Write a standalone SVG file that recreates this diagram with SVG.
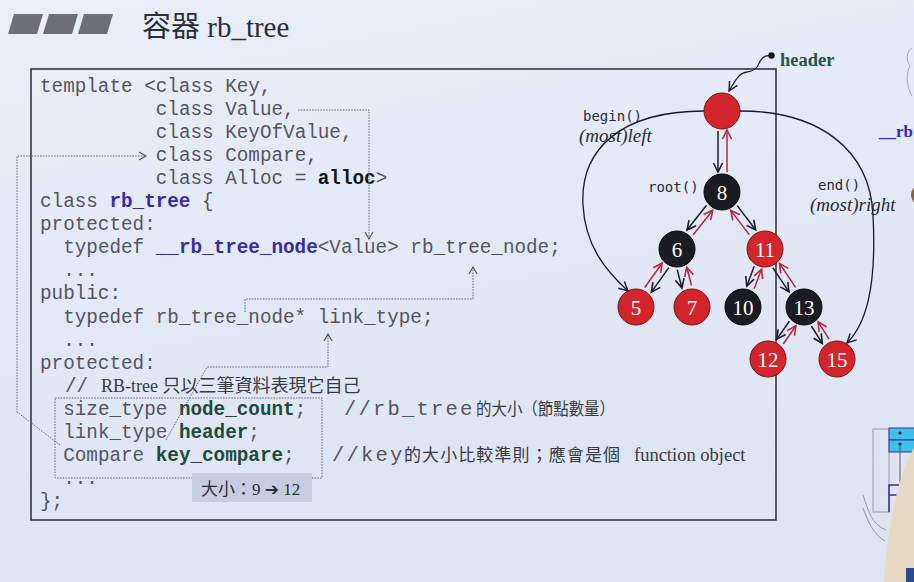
<svg xmlns="http://www.w3.org/2000/svg" width="914" height="582" viewBox="0 0 914 582">
<defs>
  <linearGradient id="bg" x1="0" y1="0" x2="0.3" y2="1">
    <stop offset="0" stop-color="#e9eef8"/>
    <stop offset="1" stop-color="#dde4f2"/>
  </linearGradient>
  <marker id="ag" markerUnits="userSpaceOnUse" markerWidth="10" markerHeight="10" refX="8" refY="5" orient="auto">
    <path d="M1,1 L8,5 L1,9" fill="none" stroke="#555" stroke-width="1.2"/>
  </marker>
  <marker id="ad" markerUnits="userSpaceOnUse" markerWidth="12" markerHeight="12" refX="10" refY="6" orient="auto">
    <path d="M1,1.5 L10,6 L1,10.5" fill="none" stroke="#1a1a28" stroke-width="1.6"/>
  </marker>
  <marker id="ar" markerUnits="userSpaceOnUse" markerWidth="12" markerHeight="12" refX="10" refY="6" orient="auto">
    <path d="M1,1.5 L10,6 L1,10.5" fill="none" stroke="#b3283f" stroke-width="1.6"/>
  </marker>
  <marker id="ak" markerUnits="userSpaceOnUse" markerWidth="12" markerHeight="12" refX="10" refY="6" orient="auto">
    <path d="M1,1.5 L10,6 L1,10.5" fill="none" stroke="#1a1a28" stroke-width="1.4"/>
  </marker>
</defs>
<style>
  .code { font-family: "Liberation Mono", "Courier New", monospace; font-size: 19.3px; fill: #55555f; }
  .bk { font-weight: bold; fill: #15151c; }
  .bl { font-weight: bold; fill: #3a2aa8; }
  .gr { font-weight: bold; fill: #1f4a3c; }
  .cjk { font-family: "Liberation Serif", "Noto Sans CJK TC", serif; fill: #3a3a44; }
  .conn { fill: none; stroke: #6a6a74; stroke-width: 1; stroke-dasharray: 1.6 1.2; }
  .dk { stroke: #1a1a28; stroke-width: 1.5; fill: none; marker-end: url(#ad); }
  .rd { stroke: #b3283f; stroke-width: 1.5; fill: none; marker-end: url(#ar); }
  .curve { stroke: #1a1a28; stroke-width: 1.3; fill: none; marker-end: url(#ak); }
  .red { fill: #d2262c; stroke: #7a1416; stroke-width: 1; }
  .blk { fill: #1b1b22; stroke: #0a0a0f; stroke-width: 1; }
  .num { font-family: "Liberation Serif", serif; font-size: 21px; fill: #ffffff; text-anchor: middle; }
  .lbl { font-family: "DejaVu Sans Mono", monospace; font-size: 14px; fill: #2a2a35; }
  .it { font-family: "Liberation Serif", serif; font-style: italic; font-size: 19px; fill: #2a2a35; }
</style>
<rect x="0" y="0" width="914" height="582" fill="url(#bg)"/>

<!-- title -->
<g id="title">
  <polygon points="14,14 43,14 37,34 8,34" fill="#6e6e7a"/>
  <polygon points="49,14 78,14 72,34 43,34" fill="#6e6e7a"/>
  <polygon points="84,14 113,14 107,34 78,34" fill="#6e6e7a"/>
  <text x="142" y="37" font-family="Liberation Serif, Noto Sans CJK TC, serif" font-size="29" fill="#2e2e36">容器 rb_tree</text>
</g>

<!-- main frame -->
<rect id="frame" x="31" y="69" width="745" height="451" fill="none" stroke="#2a2a35" stroke-width="1.5"/>

<!-- code -->
<g id="code" class="code">
  <text x="40" y="91.5">template &lt;class Key,</text>
  <text x="155.8" y="114.6">class Value,</text>
  <text x="155.8" y="137.7">class KeyOfValue,</text>
  <text x="155.8" y="160.8">class Compare,</text>
  <text x="155.8" y="183.9">class Alloc = <tspan class="bk">alloc</tspan>&gt;</text>
  <text x="40" y="207">class <tspan class="bl">rb_tree</tspan> {</text>
  <text x="40" y="230.1">protected:</text>
  <text x="63.2" y="253.2">typedef <tspan class="bl">__rb_tree_node</tspan>&lt;Value&gt; rb_tree_node;</text>
  <text x="63.2" y="276.3">...</text>
  <text x="40" y="299.4">public:</text>
  <text x="63.2" y="322.5">typedef rb_tree_node* link_type;</text>
  <text x="63.2" y="345.6">...</text>
  <text x="40" y="368.7">protected:</text>
  <text x="65" y="391.8">//</text>
  <text x="101" y="391.8" class="cjk" font-size="18">RB-tree 只以三筆資料表現它自己</text>
  <text x="63.2" y="414.9">size_type <tspan class="gr">node_count</tspan>;</text>
  <text x="63.2" y="438">link_type <tspan class="gr">header</tspan>;</text>
  <text x="63.2" y="461.1">Compare <tspan class="gr">key_compare</tspan>;</text>
  <text x="63.2" y="484.2">...</text>
  <text x="40" y="507.3">};</text>
  <text x="344" y="414.9" font-size="20.5" letter-spacing="2.2">//rb_tree</text>
  <text x="476" y="414.9" class="cjk" font-size="17" textLength="139" lengthAdjust="spacingAndGlyphs">的大小（節點數量）</text>
  <text x="332" y="461.1" font-size="20.5" letter-spacing="2.2">//key</text>
  <text x="404" y="461.1" class="cjk" font-size="17" textLength="216" lengthAdjust="spacing">的大小比較準則；應會是個</text>
  <text x="634" y="461.1" class="cjk" font-size="18.5">function object</text>
</g>

<!-- size box -->
<g id="sizebox">
  <rect x="55" y="398" width="267" height="80" fill="none" stroke="#6a6a74" stroke-width="1" stroke-dasharray="1.6 1.2"/>
  <rect x="192" y="473" width="120" height="29" fill="#c6cde0"/>
  <text x="201" y="495" font-family="Liberation Serif, Noto Sans CJK TC, serif" font-size="17" fill="#2e2e38">大小：9 <tspan font-family="DejaVu Sans, sans-serif" font-weight="bold">➔</tspan> 12</text>
</g>

<!-- connectors -->
<g id="connectors">
  <path class="conn" d="M298,110 L369,110 L369,239" marker-end="url(#ag)"/>
  <path class="conn" d="M60,445 L17,412 L17,156 L146,156" marker-end="url(#ag)"/>
  <path class="conn" d="M245,312 L245,299 L473,299 L473,267" marker-end="url(#ag)"/>
  <path class="conn" d="M166,440 L207,367 L328,367 L328,334" marker-end="url(#ag)"/>

  <!-- header pointer -->
  <path d="M771,56 C 762,54 760,62 757,67 C 752,74 745,70 740,75 C 735,80 733,84 729,91" fill="none" stroke="#1a1a28" stroke-width="1.2" marker-end="url(#ak)"/>
  <!-- begin / end curves -->
  <path class="curve" d="M704,111 C 620,111 580,150 583,205 C 585,245 605,270 628,291"/>
  <path class="curve" d="M740,111 C 820,111 870,150 873,215 C 877,290 865,325 847,343"/>

  <!-- tree edges -->
  <line class="dk" x1="718" y1="131" x2="718" y2="172"/>
  <line class="rd" x1="727" y1="172" x2="727" y2="130"/>
  <line class="dk" x1="706.5" y1="205.2" x2="687" y2="230"/>
  <line class="rd" x1="693.1" y1="235" x2="712.7" y2="210.2"/>
  <line class="dk" x1="737.2" y1="205.6" x2="755.6" y2="229.8"/>
  <line class="rd" x1="749.2" y1="234.6" x2="730.8" y2="210.4"/>
  <line class="dk" x1="668.8" y1="267.6" x2="651.4" y2="292.1"/>
  <line class="rd" x1="644.8" y1="287.5" x2="662.2" y2="263"/>
  <line class="dk" x1="677.2" y1="269.6" x2="681.9" y2="287.9"/>
  <line class="rd" x1="691.5" y1="285.5" x2="686.8" y2="267.2"/>
  <line class="dk" x1="754.2" y1="266.3" x2="746.8" y2="286"/>
  <line class="rd" x1="754.2" y1="288.8" x2="761.6" y2="269.1"/>
  <line class="dk" x1="772.9" y1="267.8" x2="789" y2="291.8"/>
  <line class="rd" x1="795.6" y1="287.4" x2="779.5" y2="263.4"/>
  <line class="dk" x1="789.3" y1="321.2" x2="776.7" y2="339.4"/>
  <line class="rd" x1="783.3" y1="344" x2="795.9" y2="325.8"/>
  <line class="dk" x1="811.3" y1="326" x2="822.3" y2="343.4"/>
  <line class="rd" x1="829.1" y1="339.2" x2="818.1" y2="321.8"/>
</g>

<!-- tree labels -->
<g id="labels">
  <circle cx="771.5" cy="55.5" r="3.2" fill="#111"/>
  <text x="780" y="66" font-family="Liberation Serif, serif" font-weight="bold" font-size="18.5" fill="#2a5548">header</text>
  <text x="583" y="121" class="lbl">begin()</text>
  <text x="579" y="142" class="it">(most)left</text>
  <text x="648" y="192" class="lbl">root()</text>
  <text x="818" y="190" class="lbl">end()</text>
  <text x="810" y="211" class="it">(most)right</text>
</g>

<!-- nodes -->
<g id="node-header"><circle cx="722" cy="111" r="18" class="red"/></g>
<g id="node-8"><circle cx="722" cy="192" r="18" class="blk"/><text x="722" y="199.5" class="num">8</text></g>
<g id="node-6"><circle cx="677" cy="249" r="18" class="blk"/><text x="677" y="256.5" class="num">6</text></g>
<g id="node-11"><circle cx="765" cy="249" r="18" class="red"/><text x="765" y="256.5" class="num">11</text></g>
<g id="node-5"><circle cx="636" cy="307" r="18" class="red"/><text x="636" y="314.5" class="num">5</text></g>
<g id="node-7"><circle cx="692" cy="307" r="18" class="red"/><text x="692" y="314.5" class="num">7</text></g>
<g id="node-10"><circle cx="743" cy="307" r="18" class="blk"/><text x="743" y="314.5" class="num">10</text></g>
<g id="node-13"><circle cx="804" cy="307" r="18" class="blk"/><text x="804" y="314.5" class="num">13</text></g>
<g id="node-12"><circle cx="768" cy="359" r="18" class="red"/><text x="768" y="366.5" class="num">12</text></g>
<g id="node-15"><circle cx="837" cy="359" r="18" class="red"/><text x="837" y="366.5" class="num">15</text></g>

<!-- right edge fragments -->
<g id="edge-fragments">
  <text x="879" y="137" font-family="Liberation Serif, serif" font-weight="bold" font-size="17" fill="#3a2ac0">__rb</text>
  <path d="M912,48 C 906,52 906,60 910,66 C 906,72 906,86 912,96" fill="none" stroke="#a8a8b4" stroke-width="1"/>
  <ellipse cx="918" cy="195" rx="7" ry="9" fill="#7a6555"/>
  <rect x="873" y="429" width="16" height="83" fill="none" stroke="#9a9aaa" stroke-width="1"/>
  <rect x="889" y="428" width="26" height="12" fill="#3fc0ea" stroke="#2a3aa0" stroke-width="1"/>
  <rect x="889" y="440" width="26" height="12" fill="#3fc0ea" stroke="#2a3aa0" stroke-width="1"/>
  <circle cx="900" cy="433" r="1.6" fill="#1a1a40"/>
  <circle cx="900" cy="444" r="1.6" fill="#1a1a40"/>
  <line x1="900" y1="444" x2="900" y2="482" stroke="#555" stroke-width="1"/>
  <path d="M889,512 L889,485 L914,485 M889,495 L914,495" fill="none" stroke="#3a2ab0" stroke-width="1.5"/>
  <path d="M863,495 C 868,510 872,525 886,530" fill="none" stroke="#9a9aa8" stroke-width="1"/>
  <path d="M863,508 C 868,522 874,535 885,541" fill="none" stroke="#9a9aa8" stroke-width="1"/>
  <path d="M914,448 C 900,470 888,520 884,582 L914,582 Z" fill="#e6dac6"/>
  <rect x="906" y="568" width="8" height="14" fill="#2a4a8a"/>
</g>
</svg>
